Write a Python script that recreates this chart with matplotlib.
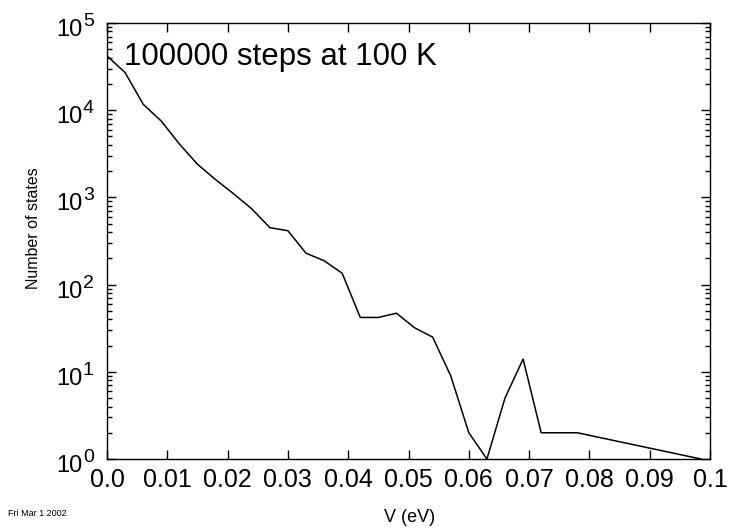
import numpy as np
import matplotlib
matplotlib.use('Agg')
import matplotlib.pyplot as plt
from matplotlib.ticker import LogLocator, NullFormatter, FixedLocator, NullLocator

plt.rcParams['font.family'] = ['Liberation Sans', 'DejaVu Sans']

# energy bins (eV) and number of states
v = [0.0, 0.003, 0.006, 0.009, 0.012, 0.015, 0.018, 0.021, 0.024, 0.027,
     0.030, 0.033, 0.036, 0.039, 0.042, 0.045, 0.048, 0.051, 0.054, 0.057,
     0.060, 0.063, 0.066, 0.069, 0.072, 0.075, 0.078, 0.0985]
nstates = [42000, 27000, 11700, 7500, 4100, 2400, 1600, 1100, 740, 450,
           415, 229, 188, 135, 42, 42, 47, 32, 25, 9,
           2, 1, 5, 14, 2, 2, 2, 1]

xticks = [0.0, 0.01, 0.02, 0.03, 0.04, 0.05, 0.06, 0.07, 0.08, 0.09, 0.1]
xlabels = ['0.0', '0.01', '0.02', '0.03', '0.04', '0.05', '0.06', '0.07', '0.08', '0.09', '0.1']
ydecades = [0, 1, 2, 3, 4, 5]

fig = plt.figure(figsize=(7.31, 5.29), dpi=100)
ax = fig.add_axes([0.1464, 0.1323, 0.8249, 0.8242])

ax.plot(v, nstates, color='black', linewidth=1.1)
ax.set_yscale('log')
ax.set_xlim(0, 0.1)
ax.set_ylim(1, 1e5)

ax.xaxis.set_major_locator(FixedLocator(xticks))
ax.set_xticklabels(xlabels)
ax.xaxis.set_minor_locator(NullLocator())
ax.yaxis.set_major_locator(LogLocator(base=10, numticks=10))
ax.yaxis.set_minor_locator(LogLocator(base=10, subs=np.arange(2, 10), numticks=10))
ax.yaxis.set_major_formatter(NullFormatter())
ax.yaxis.set_minor_formatter(NullFormatter())

ax.tick_params(which='both', direction='in', top=True, right=True, width=1.0)
ax.tick_params(which='major', length=6.7)
ax.tick_params(which='minor', length=3.6)
ax.tick_params(axis='x', pad=6.5, labelsize=18)
for s in ax.spines.values():
    s.set_linewidth(1.0)

# y tick labels drawn as "10" with a large superscript, like the original
for d in ydecades:
    ax.annotate('10', xy=(0, 10.0 ** d), xycoords=('axes fraction', 'data'),
                xytext=(-17.3, -9.4), textcoords='offset points',
                ha='right', va='baseline', fontsize=17, annotation_clip=False)
    ax.annotate(str(d), xy=(0, 10.0 ** d), xycoords=('axes fraction', 'data'),
                xytext=(-17.3, -2.2), textcoords='offset points',
                ha='left', va='baseline', fontsize=14, annotation_clip=False)

ax.set_xlabel('V (eV)', fontsize=13)
ax.xaxis.set_label_coords(0.501, -0.114)
ax.set_ylabel('Number of states', fontsize=11.5)
ax.yaxis.set_label_coords(-0.109, 0.53)

ax.text(0.028, 0.956, '100000 steps at 100 K', transform=ax.transAxes,
        fontsize=22.5, va='top', ha='left')
fig.text(0.011, 0.02, 'Fri Mar 1 2002', fontsize=6.5, ha='left', va='bottom')

plt.savefig('out.png', dpi=100)
